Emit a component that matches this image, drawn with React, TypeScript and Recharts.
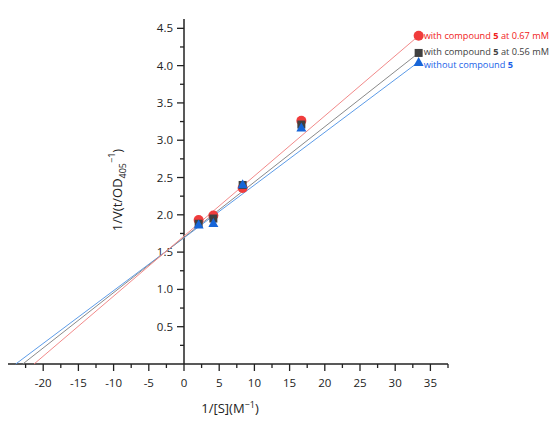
import { ComposedChart, Scatter, XAxis, YAxis, ReferenceLine } from 'recharts';

// 1/[S] values of the measured points
const xValues = [2.08, 4.17, 8.33, 16.67, 33.33];
// 1/V for each condition
const redValues = [1.93, 1.99, 2.36, 3.26, 4.4];
const grayValues = [1.88, 1.95, 2.4, 3.21, 4.17];
const blueValues = [1.87, 1.89, 2.41, 3.17, 4.05];

// fitted lines: start on the x axis, end at the last point
const redFitX = [-21.3, 33.33];
const redFitY = [0, 4.4];
const grayFitX = [-22.9, 33.33];
const grayFitY = [0, 4.17];
const blueFitX = [-23.9, 33.33];
const blueFitY = [0, 4.05];

const xMajorTicks = [-20, -15, -10, -5, 0, 5, 10, 15, 20, 25, 30, 35];
const xMinorTicks = [-22.5, -17.5, -12.5, -7.5, -2.5, 2.5, 7.5, 12.5, 17.5, 22.5, 27.5, 32.5, 37.5];
const yMajorTicks = [0.5, 1.0, 1.5, 2.0, 2.5, 3.0, 3.5, 4.0, 4.5];
const yMinorTicks = [0.25, 0.75, 1.25, 1.75, 2.25, 2.75, 3.25, 3.75, 4.25];

const FONT = '"Open Sans", sans-serif';
const AXIS = '#222';

const toPoints = (xs: number[], ys: number[]) => xs.map((x, i) => ({ x, y: ys[i] }));

const redData = toPoints(xValues, redValues);
const grayData = toPoints(xValues, grayValues);
const blueData = toPoints(xValues, blueValues);
const lastIndex = xValues.length - 1;

const XTick = (props: any) => {
  const { x, y, payload } = props;
  const major = xMajorTicks.includes(payload.value);
  return (
    <g>
      <line x1={x} x2={x} y1={y} y2={y + (major ? 7 : 4)} stroke={AXIS} strokeWidth={1.3} />
      {major && (
        <text x={x} y={y + 23} textAnchor="middle" fontSize={11.5} fontFamily={FONT} fill={AXIS}>
          {payload.value}
        </text>
      )}
    </g>
  );
};

const YMajorTick = (props: any) => {
  const { cx, cy, payload } = props;
  return (
    <g>
      <line x1={cx - 7} x2={cx} y1={cy} y2={cy} stroke={AXIS} strokeWidth={1.3} />
      <text x={cx - 11} y={cy + 4} textAnchor="end" fontSize={11.5} fontFamily={FONT} fill={AXIS}>
        {payload.y.toFixed(1)}
      </text>
    </g>
  );
};

const YMinorTick = (props: any) => {
  const { cx, cy } = props;
  return <line x1={cx - 4} x2={cx} y1={cy} y2={cy} stroke={AXIS} strokeWidth={1.3} />;
};

const EndLabel = ({ x, y, color, text }: { x: number; y: number; color: string; text: React.ReactNode }) => (
  <text x={x + 5} y={y + 3.5} fontSize={9.2} fontFamily={FONT} fill={color}>
    {text}
  </text>
);

const RedDot = (props: any) => {
  const { cx, cy, index } = props;
  return (
    <g>
      <circle cx={cx} cy={cy} r={5} fill="#f03c3c" />
      {index === lastIndex && (
        <EndLabel
          x={cx}
          y={cy}
          color="#f02020"
          text={
            <>
              with compound <tspan fontWeight="bold">5</tspan> at 0.67 mM
            </>
          }
        />
      )}
    </g>
  );
};

const GraySquare = (props: any) => {
  const { cx, cy, index } = props;
  return (
    <g>
      <rect x={cx - 4} y={cy - 4} width={8} height={8} fill="#404040" />
      {index === lastIndex && (
        <EndLabel
          x={cx}
          y={cy - 1}
          color="#404040"
          text={
            <>
              with compound <tspan fontWeight="bold">5</tspan> at 0.56 mM
            </>
          }
        />
      )}
    </g>
  );
};

const BlueTriangle = (props: any) => {
  const { cx, cy, index } = props;
  return (
    <g>
      <polygon points={`${cx},${cy - 5} ${cx + 5},${cy + 4} ${cx - 5},${cy + 4}`} fill="#1665d8" />
      {index === lastIndex && (
        <EndLabel
          x={cx}
          y={cy + 3}
          color="#1a5fe8"
          text={
            <>
              without compound <tspan fontWeight="bold">5</tspan>
            </>
          }
        />
      )}
    </g>
  );
};

const Empty = () => <g />;

export default function App() {
  return (
    <div style={{ position: 'absolute', left: 0, top: 0, background: '#fff' }}>
      <ComposedChart width={550} height={423} margin={{ top: 19, right: 102, bottom: 29, left: 8 }}>
        <XAxis
          type="number"
          dataKey="x"
          domain={[-25, 37.5]}
          ticks={[...xMajorTicks, ...xMinorTicks].sort((a, b) => a - b)}
          interval={0}
          tickSize={0}
          tickMargin={0}
          tick={<XTick />}
          axisLine={{ stroke: AXIS, strokeWidth: 1.5 }}
          height={30}
        />
        <YAxis type="number" dataKey="y" domain={[0, 4.625]} hide />
        <ReferenceLine x={0} stroke={AXIS} strokeWidth={1.5} />
        <Scatter data={yMinorTicks.map((v) => ({ x: 0, y: v }))} shape={<YMinorTick />} isAnimationActive={false} />
        <Scatter data={yMajorTicks.map((v) => ({ x: 0, y: v }))} shape={<YMajorTick />} isAnimationActive={false} />
        <Scatter data={toPoints(blueFitX, blueFitY)} line={{ stroke: '#5d9ce8', strokeWidth: 1 }} shape={<Empty />} isAnimationActive={false} />
        <Scatter data={toPoints(grayFitX, grayFitY)} line={{ stroke: '#8a8a8a', strokeWidth: 1 }} shape={<Empty />} isAnimationActive={false} />
        <Scatter data={toPoints(redFitX, redFitY)} line={{ stroke: '#f28a8a', strokeWidth: 1 }} shape={<Empty />} isAnimationActive={false} />
        <Scatter data={redData} shape={<RedDot />} isAnimationActive={false} />
        <Scatter data={grayData} shape={<GraySquare />} isAnimationActive={false} />
        <Scatter data={blueData} shape={<BlueTriangle />} isAnimationActive={false} />
        <text x={230} y={413} textAnchor="middle" fontSize={13} fontFamily={FONT} fill={AXIS}>
          1/[S](M<tspan dy={-5} fontSize={9}>−1</tspan>
          <tspan dy={5}>)</tspan>
        </text>
        <text
          x={0}
          y={0}
          transform="translate(122,190) rotate(-90)"
          textAnchor="middle"
          fontSize={13}
          fontFamily={FONT}
          fill={AXIS}
        >
          1/V(t/OD<tspan dy={4} fontSize={9}>405</tspan>
          <tspan dy={-11} fontSize={9}>−1</tspan>
          <tspan dy={7}>)</tspan>
        </text>
      </ComposedChart>
    </div>
  );
}
